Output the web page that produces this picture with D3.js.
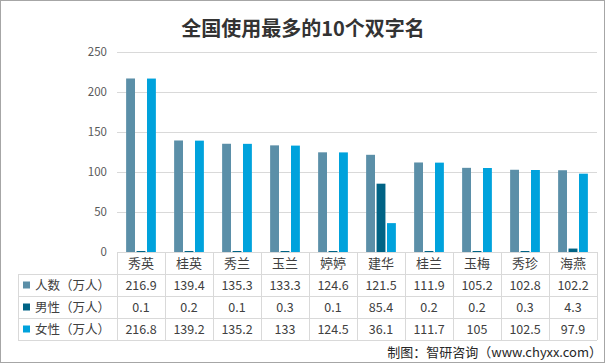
<!DOCTYPE html>
<html><head><meta charset="utf-8">
<script src="https://cdn.jsdelivr.net/npm/d3@7"></script>
<style>body{margin:0;background:#fff}svg{display:block}</style>
</head><body>
<svg id="c" width="605" height="363"></svg>
<script>
const title = "全国使用最多的10个双字名";
const categories = ["秀英","桂英","秀兰","玉兰","婷婷","建华","桂兰","玉梅","秀珍","海燕"];
const seriesNames = ["人数（万人）","男性（万人）","女性（万人）"];
const totalValues = [216.9,139.4,135.3,133.3,124.6,121.5,111.9,105.2,102.8,102.2];
const maleValues = [0.1,0.2,0.1,0.3,0.1,85.4,0.2,0.2,0.3,4.3];
const femaleValues = [216.8,139.2,135.2,133,124.5,36.1,111.7,105,102.5,97.9];
const yTicks = [0,50,100,150,200,250];
const colors = ["#5b8fa8","#006385","#00a2dc"];
const source = "制图：智研咨询（www.chyxx.com）";

(function(){
const series = [totalValues, maleValues, femaleValues];
const svg = d3.select("#c");
const font = "'Microsoft YaHei','Noto Sans CJK SC','Noto Sans',sans-serif";

svg.append("rect").attr("x",0.5).attr("y",0.5).attr("width",604).attr("height",362)
  .attr("fill","#fff").attr("stroke","#a6a6a6");

const pLeft = 117, pRight = 597, pTop = 52, pBottom = 252;
const x0 = d3.scaleBand().domain(categories).range([pLeft,pRight]).padding(0);
const bw = x0.bandwidth();
const x1 = d3.scaleBand().domain([0,1,2]).range([bw*0.19, bw*0.81]).paddingInner(0.15);
const y = d3.scaleLinear().domain([0,250]).range([pBottom, pTop]);

svg.append("text").attr("x",303).attr("y",36).attr("text-anchor","middle")
  .attr("font-family",font).attr("font-weight","bold").attr("font-size",20)
  .attr("fill","#333").text(title);

const yAxis = d3.axisLeft(y).tickValues(yTicks).tickSize(-(pRight-pLeft)).tickPadding(10);
const gy = svg.append("g").attr("transform",`translate(${pLeft},0)`).call(yAxis);
gy.select(".domain").remove();
gy.selectAll(".tick line").attr("stroke","#d9d9d9");
gy.selectAll(".tick text").attr("font-family",font).attr("font-size",11.5).attr("fill","#595959");

series.forEach((vals,si)=>{
  svg.append("g").selectAll("rect").data(vals).join("rect")
    .attr("x",(d,i)=>x0(categories[i])+x1(si))
    .attr("width",x1.bandwidth())
    .attr("y",d=>Math.min(y(d), pBottom-1))
    .attr("height",d=>Math.max(1, y(0)-y(d)))
    .attr("fill",colors[si]);
});

const rowH = 22;
const rows = [pBottom, pBottom+rowH, pBottom+2*rowH, pBottom+3*rowH, pBottom+4*rowH];
const tableLeft = 18;
const g = svg.append("g").attr("stroke","#d9d9d9").attr("stroke-width",1).attr("shape-rendering","crispEdges");
g.append("line").attr("x1",pLeft).attr("x2",pRight).attr("y1",rows[0]).attr("y2",rows[0]);
for (let r=1;r<rows.length;r++){
  g.append("line").attr("x1",tableLeft).attr("x2",pRight).attr("y1",rows[r]).attr("y2",rows[r]);
}
g.append("line").attr("x1",tableLeft).attr("x2",tableLeft).attr("y1",rows[1]).attr("y2",rows[4]);
const bounds = categories.map(c=>x0(c)).concat([pRight]);
bounds.forEach(bx=>{
  g.append("line").attr("x1",bx).attr("x2",bx).attr("y1",rows[0]).attr("y2",rows[4]);
});

svg.append("g").selectAll("text").data(categories).join("text")
  .attr("x",d=>x0(d)+bw/2).attr("y",rows[0]+16).attr("text-anchor","middle")
  .attr("font-family",font).attr("font-size",13).attr("fill","#404040").text(d=>d);

seriesNames.forEach((name,si)=>{
  const ry = rows[si+1];
  svg.append("rect").attr("x",23).attr("y",ry+7.5).attr("width",7).attr("height",7).attr("fill",colors[si]);
  svg.append("text").attr("x",35).attr("y",ry+15.5).attr("font-family",font).attr("font-size",12.5)
    .attr("fill","#404040").text(name);
  svg.append("g").selectAll("text").data(series[si]).join("text")
    .attr("x",(d,i)=>x0(categories[i])+bw/2).attr("y",ry+15.5).attr("text-anchor","middle")
    .attr("font-family",font).attr("font-size",12.5).attr("fill","#404040").text(d=>String(d));
});

svg.append("text").attr("x",602).attr("y",357).attr("text-anchor","end")
  .attr("font-family",font).attr("font-size",13).attr("fill","#262626").text(source);
})();
</script>
</body></html>
